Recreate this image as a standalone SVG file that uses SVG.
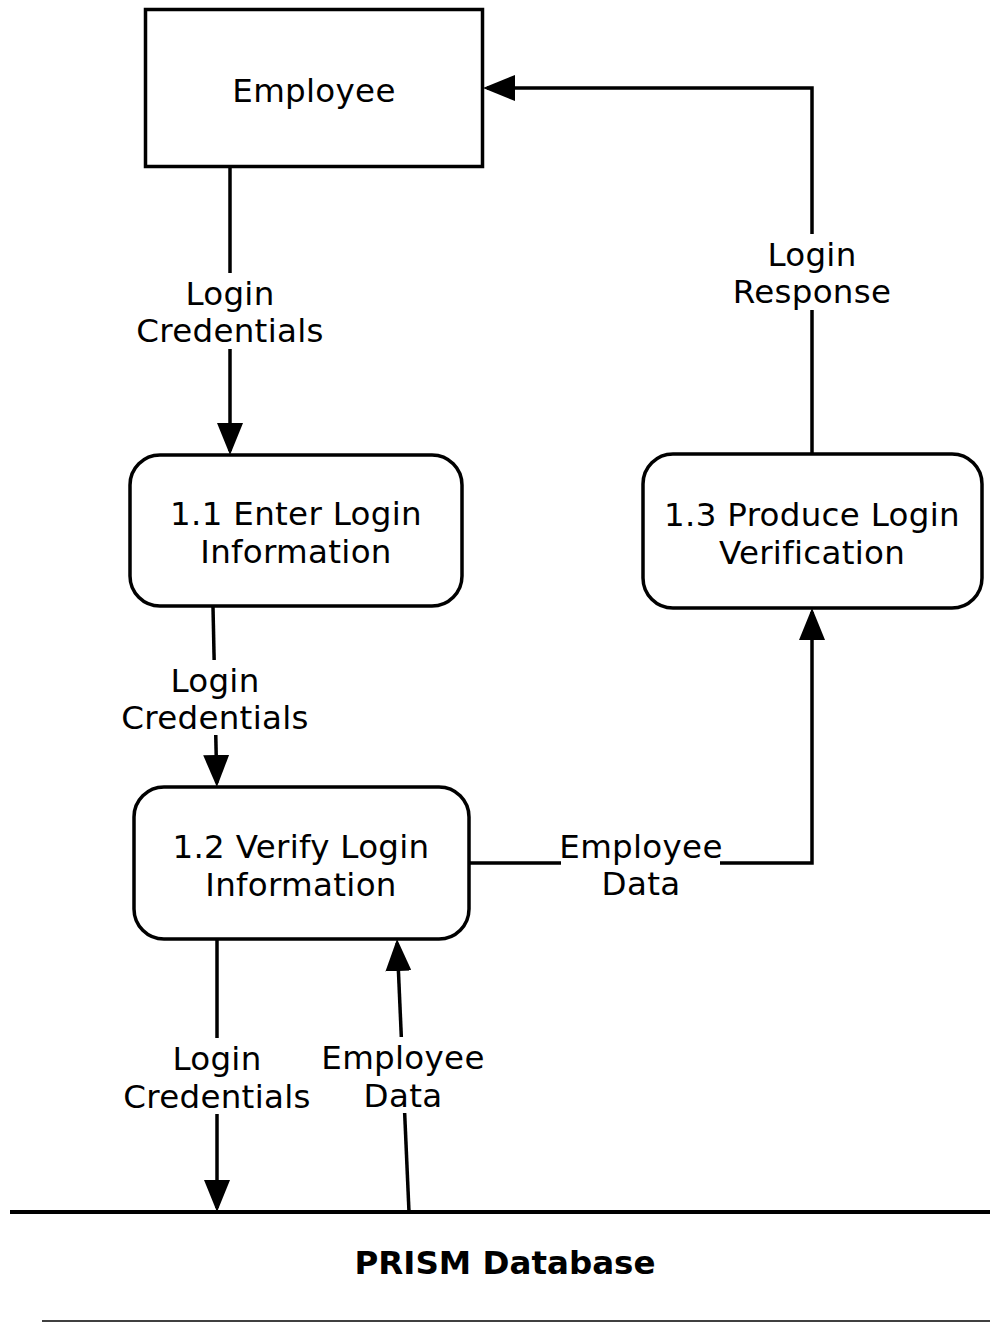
<svg xmlns="http://www.w3.org/2000/svg" width="990" height="1322" viewBox="0 0 990 1322">
  <style>
    .node { fill: #ffffff; stroke: #000000; stroke-width: 3.5; }
    .lbl { font-family: "DejaVu Sans", Verdana, sans-serif; font-size: 32.5px; letter-spacing: 0.3px; fill: #000000; text-anchor: middle; }
    .db { font-family: "DejaVu Sans", Verdana, sans-serif; font-size: 32.5px; font-weight: bold; fill: #000000; text-anchor: middle; }
    .flow { fill: none; stroke: #000000; stroke-width: 3.5; }
    .bg { fill: #ffffff; stroke: none; }
  </style>
  <defs>
    <marker id="arrow" viewBox="0 0 32 26" refX="28" refY="13" markerWidth="32" markerHeight="26" markerUnits="userSpaceOnUse" orient="auto">
      <path d="M0,0 L32,13 L0,26 Z" fill="#000000"/>
    </marker>
  </defs>
  <rect width="990" height="1322" fill="#ffffff"/>

  <!-- data flows -->
  <g id="connectors">
    <!-- Employee -> 1.1 -->
    <path class="flow" d="M230,167 L230,451" marker-end="url(#arrow)"/>
    <rect class="bg" x="136" y="273" width="188" height="76"/>
    <text class="lbl" x="230" y="304.5">Login</text>
    <text class="lbl" x="230" y="341.5">Credentials</text>

    <!-- 1.1 -> 1.2 -->
    <path class="flow" d="M213,607 L216.8,783" marker-end="url(#arrow)"/>
    <rect class="bg" x="121" y="660" width="188" height="75"/>
    <text class="lbl" x="215" y="691.5">Login</text>
    <text class="lbl" x="215" y="728.5">Credentials</text>

    <!-- 1.2 -> 1.3 -->
    <path class="flow" d="M469,863 L812,863 L812,612" marker-end="url(#arrow)"/>
    <rect class="bg" x="561" y="827" width="159" height="75"/>
    <text class="lbl" x="641" y="857.5">Employee</text>
    <text class="lbl" x="641" y="894.5">Data</text>

    <!-- 1.3 -> Employee -->
    <path class="flow" d="M812,454 L812,88 L487,88" marker-end="url(#arrow)"/>
    <rect class="bg" x="732" y="234" width="160" height="76"/>
    <text class="lbl" x="812" y="265.5">Login</text>
    <text class="lbl" x="812" y="302.5">Response</text>

    <!-- 1.2 -> PRISM Database -->
    <path class="flow" d="M217,939 L217,1208" marker-end="url(#arrow)"/>
    <rect class="bg" x="123" y="1038" width="188" height="76"/>
    <text class="lbl" x="217" y="1069.5">Login</text>
    <text class="lbl" x="217" y="1107.5">Credentials</text>

    <!-- PRISM Database -> 1.2 -->
    <path class="flow" d="M409,1212 L397.2,943" marker-end="url(#arrow)"/>
    <rect class="bg" x="322" y="1037" width="162" height="76"/>
    <text class="lbl" x="403" y="1068.5">Employee</text>
    <text class="lbl" x="403" y="1106.5">Data</text>
  </g>

  <!-- external entity -->
  <g id="employee">
    <rect class="node" x="145.5" y="9.5" width="337" height="157"/>
    <text class="lbl" x="314" y="101.5">Employee</text>
  </g>

  <!-- processes -->
  <g id="p1-1">
    <rect class="node" x="130" y="455" width="332" height="151" rx="30" ry="30"/>
    <text class="lbl" x="296" y="524.5">1.1 Enter Login</text>
    <text class="lbl" x="296" y="562.5">Information</text>
  </g>

  <g id="p1-2">
    <rect class="node" x="134" y="787" width="335" height="152" rx="30" ry="30"/>
    <text class="lbl" x="301" y="857.5">1.2 Verify Login</text>
    <text class="lbl" x="301" y="895.5">Information</text>
  </g>

  <g id="p1-3">
    <rect class="node" x="643" y="454" width="339" height="154" rx="30" ry="30"/>
    <text class="lbl" x="812" y="525.5">1.3 Produce Login</text>
    <text class="lbl" x="812" y="563.5">Verification</text>
  </g>

  <!-- data store -->
  <g id="prism-db">
    <line x1="10" y1="1212" x2="990" y2="1212" stroke="#000000" stroke-width="4"/>
    <line x1="42" y1="1321" x2="990" y2="1321" stroke="#000000" stroke-width="1.5"/>
    <text class="db" x="505" y="1273.5">PRISM Database</text>
  </g>
</svg>
